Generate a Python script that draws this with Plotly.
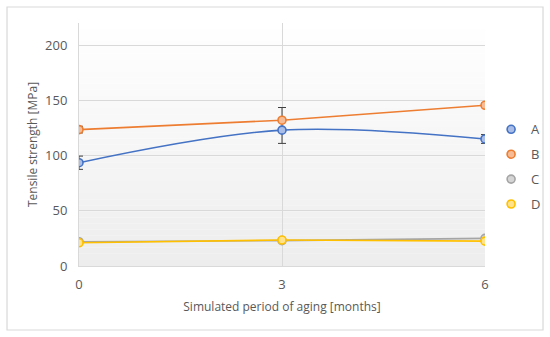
import plotly.graph_objects as go

months = [0, 3, 6]
series_names = ["A", "B", "C", "D"]
A = [93.5, 123, 115]
B = [123.5, 132, 145.5]
C = [22, 23, 25]
D = [21, 23.5, 22.5]
A_err_plus = [6, 20.5, 4]
A_err_minus = [6, 12, 4]
B_err = [3, 0, 2]
C_err = [1, 1, 1]
D_err = [1, 1, 1]
y_ticks = [0, 50, 100, 150, 200]
x_ticks = [0, 3, 6]

colors = {"A": "#4472c4", "B": "#ed7d31", "C": "#a5a5a5", "D": "#ffc000"}
fills = {"A": "#a9bde6", "B": "#f6bc96", "C": "#d5d5d5", "D": "#ffe28a"}
values = {"A": A, "B": B, "C": C, "D": D}
errs = {
    "A": dict(type="data", array=A_err_plus, arrayminus=A_err_minus, symmetric=False),
    "B": dict(type="data", array=B_err),
    "C": dict(type="data", array=C_err),
    "D": dict(type="data", array=D_err),
}

fig = go.Figure()
for n in series_names:
    e = dict(errs[n])
    e.update(color="#404040", thickness=1, width=4)
    fig.add_trace(go.Scatter(
        x=months, y=values[n], mode="lines+markers", name=n, showlegend=False,
        line=dict(color=colors[n], width=1.6, shape="spline" if n == "A" else "linear"),
        marker=dict(size=8, color=fills[n], line=dict(color=colors[n], width=1.6)),
        error_y=e,
    ))
for n in series_names:
    fig.add_trace(go.Scatter(
        x=[None], y=[None], mode="markers", name=n, legendgroup=n,
        marker=dict(size=8, color=fills[n], line=dict(color=colors[n], width=1.6)),
    ))

# gradient plot background
shapes = []
nb = 40
for i in range(nb):
    t = i / nb
    v = int(round(237 + (255 - 237) * (t + 0.5 / nb)))
    shapes.append(dict(type="rect", xref="x domain", yref="y domain",
                       x0=0, x1=1, y0=t, y1=t + 1 / nb,
                       fillcolor=f"rgb({v},{v},{v})", line=dict(width=0), layer="below"))
# outer border
shapes.append(dict(type="rect", xref="paper", yref="paper",
                   x0=-0.1773, x1=1.1429, y0=-0.2634, y1=1.0658,
                   line=dict(color="#d9d9d9", width=1.2), fillcolor="rgba(0,0,0,0)"))

fig.update_layout(
    width=550, height=337,
    margin=dict(l=79, r=65, t=23, b=71, autoexpand=False),
    paper_bgcolor="white", plot_bgcolor="white",
    font=dict(family="Open Sans", size=12, color="#595959"),
    shapes=shapes,
    showlegend=True,
    legend=dict(x=1.015, y=0.624, xanchor="left", yanchor="top",
                font=dict(size=13, color="#595959"), tracegroupgap=5,
                itemwidth=30, bgcolor="rgba(0,0,0,0)"),
    xaxis=dict(range=[0, 6], tickvals=x_ticks, showgrid=True, gridcolor="#d9d9d9",
               gridwidth=1, zeroline=False, showline=True, linecolor="#d9d9d9",
               ticks="", ticklabelstandoff=6, tickfont=dict(size=13),
               title=dict(text="Simulated period of aging [months]", standoff=11,
                          font=dict(size=12))),
    yaxis=dict(range=[0, 220], tickvals=y_ticks, showgrid=True, gridcolor="#d9d9d9",
               gridwidth=1, zeroline=False, showline=True, linecolor="#d9d9d9",
               ticks="", ticklabelstandoff=8, tickfont=dict(size=13),
               title=dict(text="Tensile strength [MPa]", standoff=4, font=dict(size=12))),
)
fig.write_html("out.html", config={"displayModeBar": False},
               post_script="document.body.style.margin='0';")
